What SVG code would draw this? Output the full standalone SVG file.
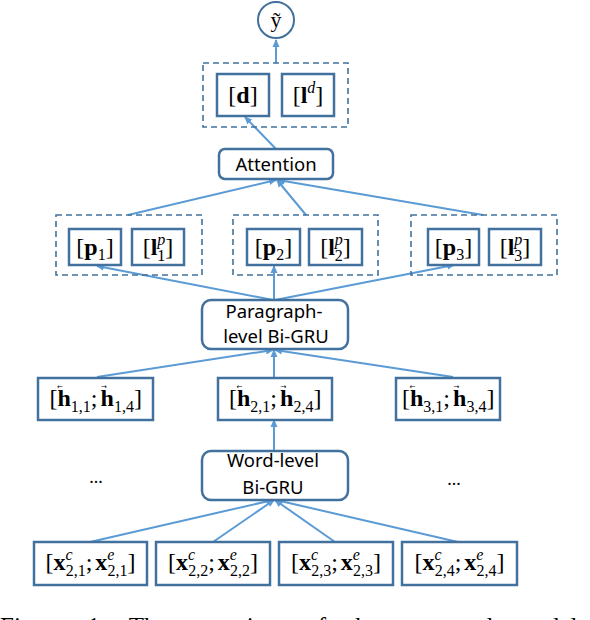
<svg xmlns="http://www.w3.org/2000/svg" width="590" height="620" viewBox="0 0 590 620">
<defs>
<style>
.box{fill:#fff;stroke:#41719c;stroke-width:2.5}
.dash{fill:none;stroke:#41719c;stroke-width:1.6;stroke-dasharray:6 4}
.rnd{fill:#fff;stroke:#41719c;stroke-width:2.5}
.ln{fill:none;stroke:#5b9bd5;stroke-width:2;marker-end:url(#ah)}
.m{font-family:"Liberation Serif","Times New Roman",serif;font-size:24px;fill:#000}
.b{font-weight:bold}
.s{font-size:16px}
.i{font-style:italic}
.sans{font-family:"Noto Sans","Open Sans",sans-serif;font-size:18.5px;fill:#000;text-anchor:middle}
.acc{font-family:"DejaVu Sans",sans-serif;font-size:7px;fill:#000;text-anchor:middle}
.cap{font-family:"Liberation Serif","Times New Roman",serif;font-size:25px;fill:#000}
</style>
<marker id="ah" markerWidth="8" markerHeight="8" refX="7" refY="4" orient="auto" markerUnits="userSpaceOnUse">
<path d="M0,0.5 L8,4 L0,7.5 z" fill="#5b9bd5"/>
</marker>
</defs>

<g id="connectors">
<line class="ln" x1="276" y1="63" x2="276" y2="40"/>
<line class="ln" x1="276" y1="149" x2="245" y2="117"/>
<line class="ln" x1="128" y1="215" x2="276" y2="180"/>
<line class="ln" x1="306" y1="215" x2="277" y2="180"/>
<line class="ln" x1="483" y1="215" x2="278" y2="180"/>
<line class="ln" x1="273" y1="300" x2="97" y2="266"/>
<line class="ln" x1="274" y1="300" x2="274" y2="266"/>
<line class="ln" x1="275" y1="300" x2="454" y2="265"/>
<line class="ln" x1="97" y1="377" x2="273" y2="350"/>
<line class="ln" x1="274" y1="377" x2="274" y2="350"/>
<line class="ln" x1="453" y1="377" x2="275" y2="350"/>
<line class="ln" x1="274" y1="451" x2="274" y2="420"/>
<line class="ln" x1="90" y1="542" x2="273" y2="500"/>
<line class="ln" x1="213" y1="542" x2="274" y2="500"/>
<line class="ln" x1="335" y1="542" x2="275" y2="500"/>
<line class="ln" x1="458" y1="542" x2="276" y2="500"/>
</g>

<g id="output">
<circle cx="276" cy="20" r="18" fill="#fff" stroke="#41719c" stroke-width="2"/>
<text class="m" x="276" y="27" text-anchor="middle" style="font-size:22px">ỹ</text>
</g>

<g id="doc">
<rect class="dash" x="203" y="63" width="145" height="64"/>
<g id="d">
<rect class="box" x="217" y="74" width="52" height="42"/>
<text class="m" x="243" y="103" text-anchor="middle">[<tspan class="b">d</tspan>]</text>
</g>
<g id="ld">
<rect class="box" x="282" y="74" width="52" height="42"/>
<text class="m" x="308" y="103" text-anchor="middle">[<tspan class="b">l</tspan><tspan class="s i" dy="-10">d</tspan><tspan dy="10">]</tspan></text>
</g>
</g>

<g id="attention">
<rect class="rnd" x="219" y="149" width="114" height="30" rx="6"/>
<text class="sans" x="276" y="171">Attention</text>
</g>

<g id="para1">
<rect class="dash" x="56" y="215" width="146" height="60"/>
<rect class="box" x="69" y="229" width="52" height="36"/>
<text class="m" x="95" y="255" text-anchor="middle">[<tspan class="b">p</tspan><tspan class="s" dy="5">1</tspan><tspan dy="-5">]</tspan></text>
<rect class="box" x="132" y="229" width="52" height="36"/>
<text class="m" x="158" y="255" text-anchor="middle">[<tspan class="b">l</tspan><tspan class="s i" dy="-10">p</tspan><tspan class="s" dx="-8" dy="16">1</tspan><tspan dy="-6">]</tspan></text>
</g>

<g id="para2">
<rect class="dash" x="233" y="215" width="145" height="60"/>
<rect class="box" x="247" y="229" width="53" height="36"/>
<text class="m" x="273.5" y="255" text-anchor="middle">[<tspan class="b">p</tspan><tspan class="s" dy="5">2</tspan><tspan dy="-5">]</tspan></text>
<rect class="box" x="309" y="229" width="53" height="36"/>
<text class="m" x="335.5" y="255" text-anchor="middle">[<tspan class="b">l</tspan><tspan class="s i" dy="-10">p</tspan><tspan class="s" dx="-8" dy="16">2</tspan><tspan dy="-6">]</tspan></text>
</g>

<g id="para3">
<rect class="dash" x="411" y="215" width="146" height="60"/>
<rect class="box" x="428" y="229" width="51" height="36"/>
<text class="m" x="453.5" y="255" text-anchor="middle">[<tspan class="b">p</tspan><tspan class="s" dy="5">3</tspan><tspan dy="-5">]</tspan></text>
<rect class="box" x="489" y="229" width="52" height="36"/>
<text class="m" x="515" y="255" text-anchor="middle">[<tspan class="b">l</tspan><tspan class="s i" dy="-10">p</tspan><tspan class="s" dx="-8" dy="16">3</tspan><tspan dy="-6">]</tspan></text>
</g>

<g id="para-gru">
<rect class="rnd" x="202" y="300" width="146" height="49" rx="9"/>
<text class="sans" x="274" y="318">Paragraph-</text>
<text class="sans" x="276" y="343">level Bi-GRU</text>
</g>

<g id="h1">
<rect class="box" x="38" y="378" width="115" height="42"/>
<text class="m" x="49.5" y="406">[<tspan class="b">h</tspan><tspan class="s" dy="6">1,1</tspan><tspan dy="-6">;</tspan><tspan class="b" dx="3">h</tspan><tspan class="s" dy="6">1,4</tspan><tspan dy="-6">]</tspan></text>
<text class="acc" x="60" y="389">←</text>
<text class="acc" x="104" y="389">→</text>
</g>

<g id="h2">
<rect class="box" x="218" y="378" width="114" height="42"/>
<text class="m" x="229" y="406">[<tspan class="b">h</tspan><tspan class="s" dy="6">2,1</tspan><tspan dy="-6">;</tspan><tspan class="b" dx="3">h</tspan><tspan class="s" dy="6">2,4</tspan><tspan dy="-6">]</tspan></text>
<text class="acc" x="239.5" y="389">←</text>
<text class="acc" x="283.5" y="389">→</text>
</g>

<g id="h3">
<rect class="box" x="396" y="378" width="104" height="42"/>
<text class="m" x="402" y="406">[<tspan class="b">h</tspan><tspan class="s" dy="6">3,1</tspan><tspan dy="-6">;</tspan><tspan class="b" dx="3">h</tspan><tspan class="s" dy="6">3,4</tspan><tspan dy="-6">]</tspan></text>
<text class="acc" x="412.5" y="389">←</text>
<text class="acc" x="456.5" y="389">→</text>
</g>

<g id="word-gru">
<rect class="rnd" x="202" y="451" width="146" height="49" rx="9"/>
<text class="sans" x="273" y="467">Word-level</text>
<text class="sans" x="273" y="494">Bi-GRU</text>
</g>

<g id="ellipsis-left">
<text class="m" x="96" y="483" text-anchor="middle" style="font-size:18px">...</text>
</g>
<g id="ellipsis-right">
<text class="m" x="454" y="485" text-anchor="middle" style="font-size:18px">...</text>
</g>

<g id="x1">
<rect class="box" x="34" y="542" width="113" height="43"/>
<text class="m" x="90.5" y="570" text-anchor="middle">[<tspan class="b">x</tspan><tspan class="s i" dy="-10">c</tspan><tspan class="s" dx="-7" dy="16">2,1</tspan><tspan dy="-6">;</tspan><tspan class="b" dx="3">x</tspan><tspan class="s i" dy="-10">e</tspan><tspan class="s" dx="-7" dy="16">2,1</tspan><tspan dy="-6">]</tspan></text>
</g>
<g id="x2">
<rect class="box" x="156" y="542" width="114" height="43"/>
<text class="m" x="213" y="570" text-anchor="middle">[<tspan class="b">x</tspan><tspan class="s i" dy="-10">c</tspan><tspan class="s" dx="-7" dy="16">2,2</tspan><tspan dy="-6">;</tspan><tspan class="b" dx="3">x</tspan><tspan class="s i" dy="-10">e</tspan><tspan class="s" dx="-7" dy="16">2,2</tspan><tspan dy="-6">]</tspan></text>
</g>
<g id="x3">
<rect class="box" x="279" y="542" width="114" height="43"/>
<text class="m" x="336" y="570" text-anchor="middle">[<tspan class="b">x</tspan><tspan class="s i" dy="-10">c</tspan><tspan class="s" dx="-7" dy="16">2,3</tspan><tspan dy="-6">;</tspan><tspan class="b" dx="3">x</tspan><tspan class="s i" dy="-10">e</tspan><tspan class="s" dx="-7" dy="16">2,3</tspan><tspan dy="-6">]</tspan></text>
</g>
<g id="x4">
<rect class="box" x="402" y="542" width="115" height="43"/>
<text class="m" x="459.5" y="570" text-anchor="middle">[<tspan class="b">x</tspan><tspan class="s i" dy="-10">c</tspan><tspan class="s" dx="-7" dy="16">2,4</tspan><tspan dy="-6">;</tspan><tspan class="b" dx="3">x</tspan><tspan class="s i" dy="-10">e</tspan><tspan class="s" dx="-7" dy="16">2,4</tspan><tspan dy="-6">]</tspan></text>
</g>

<g id="caption">
<text class="cap" x="0" y="635" style="word-spacing:16px">Figure 1: The overview of the proposed model</text>
</g>
</svg>
